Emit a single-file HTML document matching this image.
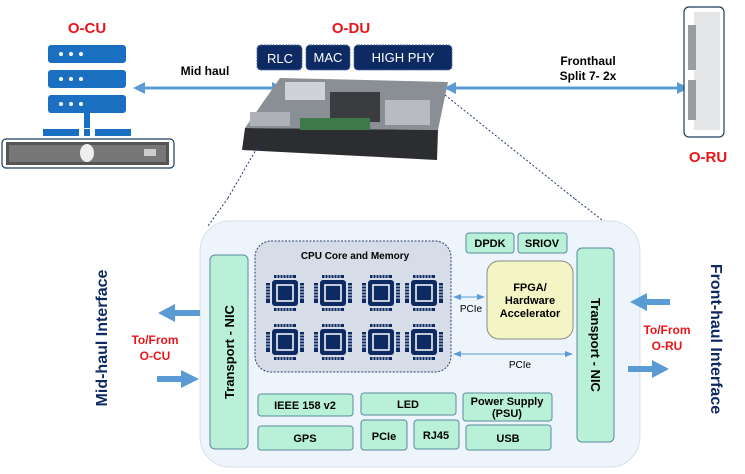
<!DOCTYPE html>
<html><head><meta charset="utf-8"><style>
html,body{margin:0;padding:0;background:#fff;}
svg{display:block;font-family:"Liberation Sans",Arial,sans-serif;}
</style></head><body>
<svg width="745" height="474" viewBox="0 0 745 474" xmlns="http://www.w3.org/2000/svg">
<defs>
<marker id="ah" markerWidth="4" markerHeight="4" refX="3" refY="2" orient="auto-start-reverse"><path d="M0,0 L4,2 L0,4 z" fill="#5b9bd5"/></marker>
<marker id="sa" markerWidth="8" markerHeight="8" refX="7" refY="4" orient="auto-start-reverse" markerUnits="userSpaceOnUse"><path d="M0,1 L8,4 L0,7 z" fill="#5b9bd5"/></marker>
<g id="chip">
<rect x="-13" y="-13" width="26" height="26" rx="3" fill="#0d2a63"/>
<rect x="-8" y="-8" width="16" height="16" fill="none" stroke="#fff" stroke-width="1.5"/>
<rect x="-5" y="-5" width="10" height="10" fill="#0d2a63"/>
<g fill="#0d2a63">
<rect x="-11" y="-18" width="22" height="3"/><rect x="-11" y="15" width="22" height="3"/>
<rect x="-19" y="-10" width="4" height="20"/><rect x="15" y="-10" width="4" height="20"/>
</g>
<g stroke="#d7dde8" stroke-width="1">
<path d="M-8,-18v3M-5,-18v3M-2,-18v3M1,-18v3M4,-18v3M7,-18v3M-8,15v3M-5,15v3M-2,15v3M1,15v3M4,15v3M7,15v3"/>
<path d="M-19,-7h4M-19,-4h4M-19,-1h4M-19,2h4M-19,5h4M15,-7h4M15,-4h4M15,-1h4M15,2h4M15,5h4"/>
</g>
</g>
</defs>

<!-- O-CU -->
<text x="87" y="33" font-size="15" font-weight="bold" fill="#e8161b" text-anchor="middle">O-CU</text>
<g fill="#1a6fc0">
<rect x="48" y="45" width="78" height="18" rx="3"/>
<rect x="48" y="70" width="78" height="18" rx="3"/>
<rect x="48" y="95" width="78" height="18" rx="3"/>
<rect x="84" y="113" width="6" height="15"/>
<rect x="43" y="129" width="36" height="7"/><rect x="84" y="129" width="6" height="7"/><rect x="95" y="129" width="36" height="7"/>
</g>
<g fill="#fff"><circle cx="61" cy="54" r="2"/><circle cx="71" cy="54" r="2"/><circle cx="81" cy="54" r="2"/>
<circle cx="61" cy="79" r="2"/><circle cx="71" cy="79" r="2"/><circle cx="81" cy="79" r="2"/>
<circle cx="61" cy="104" r="2"/><circle cx="71" cy="104" r="2"/><circle cx="81" cy="104" r="2"/></g>
<rect x="2" y="139" width="172" height="29" rx="4" fill="#fff" stroke="#1f3a60" stroke-width="1.2"/>
<rect x="6" y="142" width="163" height="23" fill="#555"/>
<rect x="9" y="145" width="157" height="17" fill="#777"/>
<ellipse cx="87" cy="153" rx="7" ry="9" fill="#eee"/>
<rect x="144" y="149" width="12" height="7" fill="#ccc"/>

<!-- Mid haul -->
<line x1="136" y1="88" x2="281" y2="88" stroke="#5b9bd5" stroke-width="3" marker-start="url(#ah)" marker-end="url(#ah)"/>
<text x="205" y="75" font-size="12" font-weight="bold" text-anchor="middle">Mid haul</text>

<!-- O-DU -->
<text x="351" y="33" font-size="15" font-weight="bold" fill="#e8161b" text-anchor="middle">O-DU</text>
<g fill="#0d2a63" stroke="#4a6a9a" stroke-dasharray="2,1">
<rect x="257" y="45" width="45" height="25" rx="4"/>
<rect x="306" y="45" width="44" height="25" rx="4"/>
<rect x="354" y="45" width="98" height="25" rx="4"/>
</g>
<g fill="#fff" font-size="13" text-anchor="middle">
<text x="280" y="63">RLC</text><text x="328" y="62">MAC</text><text x="403" y="62">HIGH PHY</text>
</g>
<!-- server chassis -->
<path d="M280,78 L448,82 L438,130 L245,128 Z" fill="#8a8f96"/>
<path d="M245,128 L438,130 L437,160 L242,150 Z" fill="#2b2d30"/>
<rect x="285" y="82" width="40" height="18" fill="#cfd2d6"/>
<rect x="330" y="92" width="50" height="30" fill="#3a3c40"/>
<rect x="385" y="100" width="45" height="25" fill="#b8bcc2"/>
<rect x="300" y="118" width="70" height="12" fill="#3d7a4a"/>
<rect x="250" y="112" width="40" height="14" fill="#aeb2b8"/>

<line x1="447" y1="88" x2="686" y2="88" stroke="#5b9bd5" stroke-width="3" marker-start="url(#ah)" marker-end="url(#ah)"/>
<text x="588" y="65" font-size="12" font-weight="bold" text-anchor="middle">Fronthaul</text>
<text x="588" y="80" font-size="12" font-weight="bold" text-anchor="middle">Split 7- 2x</text>

<!-- O-RU -->
<rect x="684" y="7" width="40" height="130" rx="5" fill="#fff" stroke="#1f3a60" stroke-width="1.2"/>
<rect x="694" y="12" width="26" height="118" fill="#e4e6e8"/>
<rect x="688" y="25" width="8" height="45" fill="#9a9da0"/>
<rect x="688" y="80" width="8" height="40" fill="#9a9da0"/>
<text x="708" y="162" font-size="15" font-weight="bold" fill="#e8161b" text-anchor="middle">O-RU</text>

<!-- dotted -->
<line x1="261" y1="141" x2="228" y2="198" stroke="#1f3a70" stroke-dasharray="2,2"/>
<line x1="445" y1="95" x2="575" y2="199" stroke="#1f3a70" stroke-dasharray="2,2"/>
<line x1="228" y1="198" x2="208" y2="226" stroke="#1f3a70" stroke-dasharray="2,2"/>
<line x1="575" y1="199" x2="606" y2="223" stroke="#1f3a70" stroke-dasharray="2,2"/>

<!-- big box -->
<rect x="200" y="221" width="440" height="246" rx="30" fill="#eef4fb" stroke="#d4e0ee"/>

<rect x="210" y="255" width="38" height="194" rx="5" fill="#b8f0d8" stroke="#5a8aa0"/>
<text transform="translate(234,352) rotate(-90)" font-size="13" font-weight="bold" text-anchor="middle">Transport  - NIC</text>
<rect x="577" y="248" width="37" height="194" rx="5" fill="#b8f0d8" stroke="#5a8aa0"/>
<text transform="translate(591,345) rotate(90)" font-size="13" font-weight="bold" text-anchor="middle">Transport  - NIC</text>

<rect x="255" y="241" width="196" height="131" rx="16" fill="#d7dde8" stroke="#2b4170" stroke-dasharray="2,1.5"/>
<text x="355" y="259" font-size="10" font-weight="bold" text-anchor="middle">CPU Core and Memory</text>
<use href="#chip" x="285" y="293"/><use href="#chip" x="333" y="293"/><use href="#chip" x="381" y="293"/><use href="#chip" x="424" y="293"/>
<use href="#chip" x="285" y="342"/><use href="#chip" x="333" y="342"/><use href="#chip" x="381" y="342"/><use href="#chip" x="424" y="342"/>

<g fill="#b8f0d8" stroke="#5a8aa0">
<rect x="466" y="233" width="48" height="20" rx="3"/><rect x="518" y="233" width="49" height="20" rx="3"/>
<rect x="258" y="394" width="95" height="22" rx="3"/><rect x="258" y="426" width="95" height="24" rx="3"/>
<rect x="361" y="393" width="95" height="22" rx="3"/><rect x="361" y="420" width="46" height="30" rx="3"/>
<rect x="414" y="420" width="45" height="29" rx="3"/><rect x="463" y="393" width="89" height="28" rx="3"/>
<rect x="466" y="425" width="85" height="25" rx="3"/>
</g>
<g font-size="11" font-weight="bold" text-anchor="middle">
<text x="490" y="247">DPDK</text><text x="542" y="247">SRIOV</text>
<text x="305" y="409">IEEE 158 v2</text><text x="305" y="442">GPS</text>
<text x="408" y="408">LED</text><text x="384" y="440">PCIe</text><text x="436" y="439">RJ45</text>
<text x="507" y="405">Power Supply</text><text x="507" y="417">(PSU)</text><text x="508" y="442">USB</text>
</g>

<rect x="487" y="261" width="86" height="78" rx="12" fill="#f3f6c4" stroke="#8a8a8a"/>
<g font-size="11" font-weight="bold" text-anchor="middle">
<text x="530" y="291">FPGA/</text><text x="530" y="304">Hardware</text><text x="530" y="317">Accelerator</text>
</g>
<line x1="454" y1="297" x2="484" y2="297" stroke="#5b9bd5" stroke-width="1" marker-start="url(#sa)" marker-end="url(#sa)"/>
<text x="471" y="312" font-size="10" text-anchor="middle">PCIe</text>
<line x1="454" y1="354" x2="572" y2="354" stroke="#5b9bd5" stroke-width="1" marker-start="url(#sa)" marker-end="url(#sa)"/>
<text x="520" y="368" font-size="10" text-anchor="middle">PCIe</text>

<!-- side arrows -->
<g fill="#5b9bd5">
<path d="M200,310 L175,310 L175,304 L158,313 L175,322 L175,316 L200,316 Z"/>
<path d="M157,376 L181,376 L181,370 L199,379 L181,388 L181,382 L157,382 Z"/>
<path d="M670,299 L647,299 L647,293 L630,302 L647,311 L647,305 L670,305 Z"/>
<path d="M628,366 L652,366 L652,360 L669,369 L652,378 L652,372 L628,372 Z"/>
</g>
<g font-size="12" font-weight="bold" fill="#e8161b" text-anchor="middle">
<text x="155" y="344">To/From</text><text x="155" y="360">O-CU</text>
<text x="667" y="334">To/From</text><text x="667" y="350">O-RU</text>
</g>
<text transform="translate(107,338) rotate(-90)" font-size="16" font-weight="bold" fill="#0d2a63" text-anchor="middle">Mid-haul Interface</text>
<text transform="translate(711,339) rotate(90)" font-size="16" font-weight="bold" fill="#0d2a63" text-anchor="middle">Front-haul Interface</text>
</svg>
</body></html>
